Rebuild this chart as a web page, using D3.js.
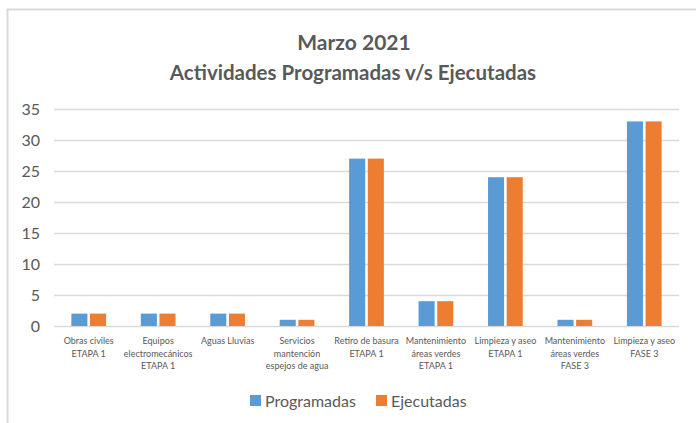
<!DOCTYPE html>
<html>
<head>
<meta charset="utf-8">
<script src="https://cdn.jsdelivr.net/npm/d3@7"></script>
<style>
  body { margin: 0; background: #fff; }
  svg { display: block; font-family: Lato, "Open Sans", sans-serif; }
</style>
</head>
<body>
<div id="chart"></div>
<script>
// Chart data
const titleLines = ['Marzo 2021', 'Actividades Programadas v/s Ejecutadas'];
const categories = [
    ['Obras civiles', 'ETAPA 1'],
    ['Equipos', 'electromecánicos', 'ETAPA 1'],
    ['Aguas Lluvias'],
    ['Servicios', 'mantención', 'espejos de agua'],
    ['Retiro de basura', 'ETAPA 1'],
    ['Mantenimiento', 'áreas verdes', 'ETAPA 1'],
    ['Limpieza y aseo', 'ETAPA 1'],
    ['Mantenimiento', 'áreas verdes', 'FASE 3'],
    ['Limpieza y aseo', 'FASE 3']
];
const seriesNames = ['Programadas', 'Ejecutadas'];
const programadas = [2, 2, 2, 1, 27, 4, 24, 1, 33];
const ejecutadas = [2, 2, 2, 1, 27, 4, 24, 1, 33];
const yTicks = [0, 5, 10, 15, 20, 25, 30, 35];
const colors = ['#5B9BD5', '#ED7D31'];

const width = 696, height = 423;
const margin = { top: 109, right: 17, bottom: 97, left: 54 };

const svg = d3.select('#chart').append('svg')
    .attr('width', width)
    .attr('height', height);

// Outer frame
svg.append('rect')
    .attr('x', 7.5).attr('y', 9.5)
    .attr('width', width + 10).attr('height', height + 10)
    .attr('fill', 'none')
    .attr('stroke', '#d9d9d9')
    .attr('stroke-width', 2);

// Title
svg.append('text')
    .attr('x', 354).attr('y', 50)
    .attr('text-anchor', 'middle')
    .style('font-size', '21px')
    .style('font-weight', 'bold')
    .style('fill', '#595959')
    .text(titleLines[0]);
svg.append('text')
    .attr('x', 353).attr('y', 80)
    .attr('text-anchor', 'middle')
    .style('font-size', '20.5px')
    .style('font-weight', 'bold')
    .style('fill', '#595959')
    .text(titleLines[1]);

const g = svg.append('g')
    .attr('transform', `translate(${margin.left},${margin.top})`);
const innerW = width - margin.left - margin.right;
const innerH = height - margin.top - margin.bottom;

const x0 = d3.scaleBand()
    .domain(d3.range(categories.length))
    .range([0, innerW])
    .paddingInner(0.5)
    .paddingOuter(0.25);
const x1 = d3.scaleBand()
    .domain(d3.range(seriesNames.length))
    .range([0, x0.bandwidth()])
    .paddingInner(0.14);
const y = d3.scaleLinear().domain([0, 35]).range([innerH, 0]);

// Gridlines
g.selectAll('.grid')
    .data(yTicks)
    .enter().append('line')
    .attr('x1', 0).attr('x2', innerW)
    .attr('y1', d => Math.round(y(d)) + 0.5)
    .attr('y2', d => Math.round(y(d)) + 0.5)
    .attr('stroke', '#d9d9d9')
    .attr('stroke-width', 1.5);

// Y tick labels
g.selectAll('.ylab')
    .data(yTicks)
    .enter().append('text')
    .attr('x', -14)
    .attr('y', d => y(d))
    .attr('dy', '0.35em')
    .attr('text-anchor', 'end')
    .style('font-size', '16px')
    .style('fill', '#595959')
    .text(d => d);

// Bars
const series = [programadas, ejecutadas];
series.forEach((vals, s) => {
    g.selectAll('.bar' + s)
        .data(vals)
        .enter().append('rect')
        .attr('x', (d, i) => x0(i) + x1(s))
        .attr('y', d => y(d))
        .attr('width', x1.bandwidth())
        .attr('height', d => innerH - y(d))
        .attr('fill', colors[s]);
});

// Category labels
const catLabels = g.selectAll('.xlab')
    .data(categories)
    .enter().append('text')
    .attr('text-anchor', 'middle')
    .attr('transform', (d, i) => `translate(${x0(i) + x0.bandwidth() / 2},${innerH + 18})`)
    .style('font-size', '9px')
    .style('fill', '#595959');
catLabels.selectAll('tspan')
    .data(d => d)
    .enter().append('tspan')
    .attr('x', 0)
    .attr('y', (d, i) => i * 12.5)
    .text(d => d);

// Legend
const legendX = [250, 376];
seriesNames.forEach((name, s) => {
    svg.append('rect')
        .attr('x', legendX[s]).attr('y', 395)
        .attr('width', 11).attr('height', 11)
        .attr('fill', colors[s]);
    svg.append('text')
        .attr('x', legendX[s] + 15).attr('y', 401)
        .attr('dy', '0.35em')
        .style('font-size', '16px')
        .style('fill', '#595959')
        .text(name);
});
</script>
</body>
</html>
